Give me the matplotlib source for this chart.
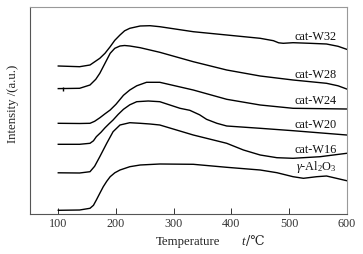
import matplotlib
matplotlib.use("Agg")
import matplotlib.pyplot as plt

plt.rcParams["font.family"] = ["Liberation Serif", "DejaVu Serif"]
plt.rcParams["mathtext.fontset"] = "custom"
plt.rcParams["mathtext.rm"] = "Liberation Serif"
plt.rcParams["mathtext.it"] = "Liberation Serif:italic"

# temperature (°C) and intensity (a.u., offset curves)
t_w32 = [100, 137, 155, 172, 181, 190, 198, 207, 215, 224, 242, 259, 276, 334, 392, 450, 473, 482, 490, 507, 536, 565, 585, 600]
y_w32 = [148.3, 147.6, 149.3, 156.0, 161.0, 167.6, 174.0, 179.3, 183.5, 186.0, 188.3, 188.6, 187.6, 182.6, 179.3, 176.0, 173.6, 171.5, 171.0, 171.6, 171.0, 170.3, 168.0, 165.0]

t_w28 = [100, 137, 155, 165, 172, 181, 190, 198, 207, 215, 224, 242, 276, 334, 392, 450, 507, 565, 585, 600]
y_w28 = [125.7, 126.0, 129.3, 135.0, 141.0, 151.0, 161.0, 166.0, 168.3, 168.8, 168.3, 166.6, 162.0, 152.6, 144.3, 138.3, 134.3, 131.0, 128.5, 125.3]

t_w24 = [100, 137, 155, 163, 172, 181, 190, 200, 213, 224, 236, 253, 276, 334, 392, 450, 507, 600]
y_w24 = [91.0, 90.8, 91.0, 93.0, 96.5, 100.5, 104.3, 110.0, 119.0, 124.3, 128.5, 132.0, 132.0, 124.3, 115.0, 109.3, 106.0, 105.3]

t_w20 = [100, 137, 155, 161, 166, 174, 181, 188, 195, 204, 213, 224, 236, 256, 276, 311, 328, 345, 357, 375, 392, 450, 507, 600]
y_w20 = [70.0, 70.0, 71.0, 73.5, 77.6, 82.0, 86.5, 90.5, 94.3, 100.0, 105.0, 109.5, 112.6, 113.3, 112.6, 106.0, 104.0, 99.5, 95.0, 91.0, 88.3, 86.0, 83.6, 79.3]

t_w16 = [100, 137, 155, 163, 172, 184, 195, 207, 224, 242, 259, 276, 334, 392, 421, 450, 479, 507, 554, 600]
y_w16 = [41.5, 41.3, 42.6, 48.0, 57.6, 71.0, 82.6, 89.3, 91.6, 91.0, 90.3, 89.3, 79.3, 71.0, 64.3, 59.3, 56.6, 56.0, 57.6, 61.0]

t_al = [100, 137, 155, 161, 166, 172, 178, 184, 190, 198, 207, 224, 242, 276, 334, 392, 450, 479, 507, 525, 548, 565, 600]
y_al = [4.0, 4.3, 6.0, 9.0, 14.3, 21.0, 27.6, 33.0, 37.6, 41.5, 44.3, 47.6, 49.3, 50.3, 50.0, 47.0, 44.3, 41.6, 37.6, 36.0, 37.6, 38.3, 33.6]

names = ["cat-W32", "cat-W28", "cat-W24", "cat-W20", "cat-W16", r"$\gamma$-Al$_2$O$_3$"]
label_y = [177.6, 139.3, 113.6, 89.3, 64.3, 47.0]
curves = [(t_w32, y_w32), (t_w28, y_w28), (t_w24, y_w24), (t_w20, y_w20), (t_w16, y_w16), (t_al, y_al)]

fig = plt.figure(figsize=(3.63, 2.54), dpi=100)
ax = fig.add_axes([30 / 363, 39.7 / 254, 316.7 / 363, 207.3 / 254])

for name, (t, y), ly in zip(names, curves, label_y):
    ax.plot(t, y, color="black", lw=1.0, solid_joinstyle="round")
    ax.text(583, ly, name, ha="right", va="center", fontsize=8.8, color="#111111")

# small mark on the W28 baseline
ax.plot([109], [125.8], marker="|", color="black", ms=3, mew=1.0)

ax.set_xlim(51, 600)
ax.set_ylim(0, 207.3)
ax.set_xticks([100, 200, 300, 400, 500, 600])
ax.set_yticks([])
ax.tick_params(axis="x", direction="in", length=4, width=0.7, labelsize=8.7, pad=3, colors="#333333")

# axis titles placed as in the picture
fig.text(13 / 363, 1 - 103.5 / 254, "Intensity /(a.u.)", rotation=90, ha="center", va="center",
         fontsize=9.2, color="#222222")
fig.text(188.5 / 363, 1 - 242 / 254, "Temperature", ha="center", va="center", fontsize=9.2, color="#222222")
fig.text(243 / 363, 1 - 242 / 254, "t", ha="center", va="center", fontsize=9.2, style="italic", color="#222222")
fig.text(246.5 / 363, 1 - 242 / 254, "/℃", ha="left", va="center", fontsize=9.2, color="#222222",
         family=["DejaVu Serif"])

for side in ["left", "bottom"]:
    ax.spines[side].set_color("#555555")
    ax.spines[side].set_linewidth(0.8)
for side in ["top", "right"]:
    ax.spines[side].set_color("#999999")
    ax.spines[side].set_linewidth(0.8)

fig.savefig("out.png", dpi=100)
